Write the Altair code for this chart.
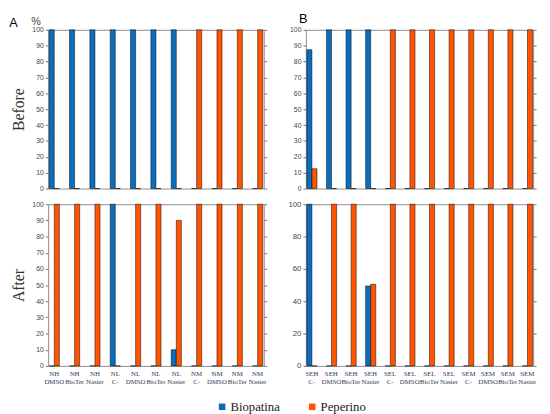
import altair as alt
import pandas as pd

series = ["Biopatina", "Peperino"]
colors = ["#0a6ebd", "#ff5400"]

cats_a = ["NH DMSO", "NH BioTer", "NH Nasier", "NL C-", "NL DMSO", "NL BioTer",
          "NL Nasier", "NM C-", "NM DMSO", "NM BioTer", "NM Nasier"]
cats_b = ["SEH C-", "SEH DMSO", "SEH BioTer", "SEH Nasier", "SEL C-", "SEL DMSO",
          "SEL BioTer", "SEL Nasier", "SEM C-", "SEM DMSO", "SEM BioTer", "SEM Nasier"]

a_before_bio = [100, 100, 100, 100, 100, 100, 100, 0, 0, 0, 0]
a_before_pep = [0, 0, 0, 0, 0, 0, 0, 100, 100, 100, 100]
a_after_bio = [0, 0, 0, 100, 0, 0, 10, 0, 0, 0, 0]
a_after_pep = [100, 100, 100, 0, 100, 100, 90, 100, 100, 100, 100]

b_before_bio = [87.5, 100, 100, 100, 0, 0, 0, 0, 0, 0, 0, 0]
b_before_pep = [12.5, 0, 0, 0, 100, 100, 100, 100, 100, 100, 100, 100]
b_after_bio = [100, 0, 0, 49.5, 0, 0, 0, 0, 0, 0, 0, 0]
b_after_pep = [0, 100, 100, 50.5, 100, 100, 100, 100, 100, 100, 100, 100]

ticks10 = [0, 10, 20, 30, 40, 50, 60, 70, 80, 90, 100]
ticks20 = [0, 20, 40, 60, 80, 100]


def frame(cats, bio, pep):
    rows = []
    for c, b, p in zip(cats, bio, pep):
        rows.append({"cat": c, "series": series[0], "value": b})
        rows.append({"cat": c, "series": series[1], "value": p})
    return pd.DataFrame(rows)


def panel(df, cats, w, h, ytitle, yvals, show_x, pct=False, title=None, lfs=7):
    if show_x:
        xaxis = alt.Axis(title=None, labelAngle=0, labelExpr="split(datum.label, ' ')",
                         labelFont="Liberation Serif", labelFontSize=7,
                         labelColor="#2e3b55", labelLineHeight=8,
                         ticks=False, domain=False, labelPadding=4, labelLimit=0)
    else:
        xaxis = None
    x = alt.X("cat:N", sort=cats, axis=xaxis,
              scale=alt.Scale(paddingInner=0.5, paddingOuter=0.05))
    xo = alt.XOffset("series:N", sort=series)
    yscale = alt.Scale(domain=[0, 100], nice=False)
    left_axis_kwargs = dict(values=yvals, title=ytitle, titleFont="Liberation Serif",
                            titleFontSize=16, titleFontWeight="normal", titleColor="#333333",
                            titlePadding=5, labelFont="Liberation Sans", labelFontSize=lfs,
                            labelColor="#444444", tickSize=3, tickColor="#777777",
                            domain=False, labelPadding=2, grid=False)
    bars = alt.Chart(df).mark_bar(stroke="black", strokeWidth=0.5).encode(
        x=x, xOffset=xo,
        y=alt.Y("value:Q", scale=yscale, axis=alt.Axis(**left_axis_kwargs)),
        color=alt.Color("series:N", scale=alt.Scale(domain=series, range=colors),
                        legend=alt.Legend(orient="none", legendX=171, legendY=378,
                                          direction="horizontal", title=None,
                                          symbolType="square", symbolSize=45,
                                          symbolStrokeWidth=0,
                                          labelFont="Liberation Serif", labelFontSize=13,
                                          labelColor="#222222", columnPadding=26,
                                          labelOffset=2)),
    )
    right_kwargs = dict(orient="right", values=yvals, labels=False, tickSize=3,
                        tickColor="#777777", domain=False, grid=False)
    if pct:
        right_kwargs.update(title="%", titleAngle=0, titleX=-w - 13, titleY=-5,
                            titleAlign="center", titleBaseline="alphabetic",
                            titleFont="Liberation Sans", titleFontSize=11,
                            titleFontWeight="normal", titleColor="#444444")
    else:
        right_kwargs.update(title=None)
    ghost = alt.Chart(df).mark_bar(opacity=0).encode(
        x=x, xOffset=xo,
        y=alt.Y("value:Q", scale=yscale, axis=alt.Axis(**right_kwargs)),
    )
    ch = alt.layer(bars, ghost).resolve_scale(y="independent").properties(width=w, height=h)
    if title is not None:
        ch = ch.properties(title=title)
    return ch


a_before = panel(frame(cats_a, a_before_bio, a_before_pep), cats_a, 220, 162, "Before",
                 ticks10, False, pct=True,
                 title=alt.Title("A", anchor="start", frame="bounds", font="Liberation Sans",
                                 fontSize=13, fontWeight="normal", color="black",
                                 offset=-14, dx=-2))
b_before = panel(frame(cats_b, b_before_bio, b_before_pep), cats_b, 232, 162, None,
                 ticks10, False,
                 title=alt.Title("B", anchor="start", frame="group", font="Liberation Sans",
                                 fontSize=13, fontWeight="normal", color="black",
                                 offset=0, dx=-7))
a_after = panel(frame(cats_a, a_after_bio, a_after_pep), cats_a, 220, 165, "After",
                ticks10, True)
b_after = panel(frame(cats_b, b_after_bio, b_after_pep), cats_b, 232, 165, None,
                ticks20, True, lfs=8)

chart = alt.concat(a_before, b_before, a_after, b_after, columns=2,
                   spacing={"row": 16, "column": 43}, bounds="flush").configure_view(
    stroke="#8c8c8c", strokeWidth=1
).configure_legend(
    labelFont="Liberation Serif", labelFontSize=13
).properties(padding={"left": 0, "top": 0, "right": 5, "bottom": 5})

chart.save("out.html", embed_options={"renderer": "svg", "actions": False})
